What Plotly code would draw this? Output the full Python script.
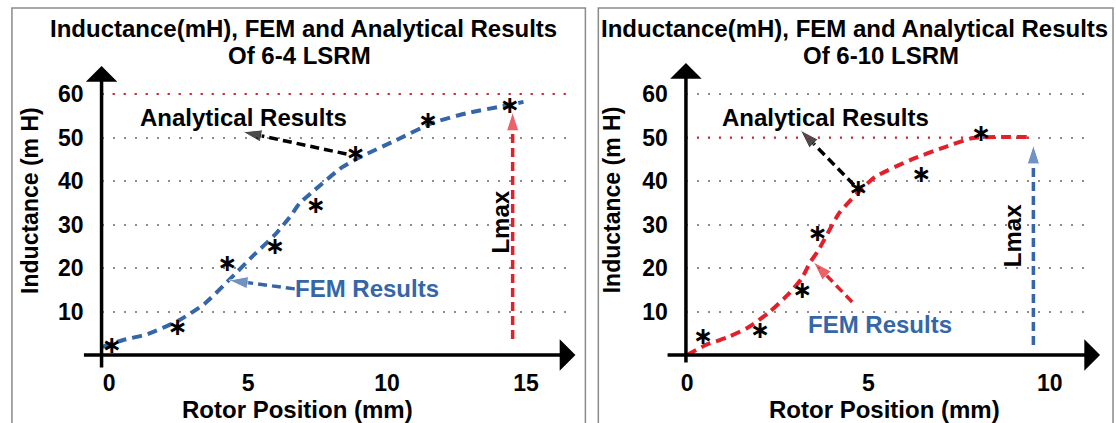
import plotly.graph_objects as go

W, H = 1116, 423
FONT = "Liberation Sans, Arial, sans-serif"
BLUE = "#3566a8"
RED = "#e3202a"
GRID = "#8c8c8c"

# ---------------- data: 6-4 LSRM (left) ----------------
x_ticks_left = [0, 5, 10, 15]
y_ticks = [10, 20, 30, 40, 50, 60]

fem_x_left = [-0.27, 0.48, 1.38, 2.52, 3.42, 4.31, 5.21, 5.96, 6.5, 6.86, 7.39,
              8.39, 9.04, 10.33, 11.62, 12.87, 14.16, 14.91]
fem_y_left = [1.8, 3.4, 4.8, 8.0, 11.7, 17.2, 23.0, 27.6, 31.7, 34.9, 37.9,
              43.2, 45.5, 49.4, 53.3, 55.6, 57.2, 58.2]
ana_x_left = [0.09, 2.45, 4.24, 5.96, 7.43, 8.86, 11.47, 14.41]
ana_y_left = [1.8, 6.0, 20.7, 24.6, 34.0, 46.0, 53.6, 57.0]
lmax_level_left = 60
lmax_arrow_left = {"x": [14.52, 14.52], "y": [3.7, 55.9]}
ana_arrow_left = {"x": [8.54, 4.81], "y": [46.2, 51.3]}
fem_arrow_left = {"x": [6.68, 4.31], "y": [15.2, 17.2]}

# ---------------- data: 6-10 LSRM (right) ----------------
x_ticks_right = [0, 5, 10]

fem_x_right = [0.0, 0.51, 1.12, 1.69, 2.27, 2.77, 3.15, 3.40, 3.62, 4.19, 4.69,
               5.18, 6.15, 7.11, 7.88, 8.67, 9.44]
fem_y_right = [0.0, 2.3, 4.1, 6.4, 9.9, 13.8, 17.5, 21.4, 24.1, 32.6, 37.2,
               40.9, 44.8, 47.8, 49.9, 50.1, 50.1]
ana_x_right = [0.43, 2.0, 3.17, 3.59, 4.71, 6.45, 8.1]
ana_y_right = [3.9, 5.3, 14.5, 27.6, 37.9, 41.1, 50.6]
lmax_level_right = 50
lmax_arrow_right = {"x": [9.55, 9.55], "y": [2.3, 48.3]}
ana_arrow_right = {"x": [4.60, 3.12], "y": [39.1, 51.7]}
fem_arrow_right = {"x": [4.55, 3.48], "y": [12.2, 21.4]}


def px(v):
    return v / W


def py(v):
    return 1 - v / H


fig = go.Figure()

DASH = "10px,6px"


def add_panel(xr, yr, fem_x, fem_y, fem_color, ana_x, ana_y,
              lmax_arrow, lmax_color, ana_arrow, fem_arrow, fem_arrow_color):
    # FEM curve
    fig.add_trace(go.Scatter(x=fem_x, y=fem_y, mode="lines",
                             line=dict(color=fem_color, width=4, dash=DASH,
                                       shape="spline", smoothing=0.6),
                             xaxis=xr, yaxis=yr, hoverinfo="skip"))
    # dashed arrows
    for arr, col in ((lmax_arrow, lmax_color), (ana_arrow, "black"),
                     (fem_arrow, fem_arrow_color)):
        fig.add_trace(go.Scatter(
            x=arr["x"], y=arr["y"], mode="lines+markers",
            line=dict(color=col, width=3.5, dash="9px,5px"),
            marker=dict(symbol="arrow", size=[0, 20], color=col,
                        angleref="previous"),
            xaxis=xr, yaxis=yr, hoverinfo="skip", cliponaxis=False))
    # analytical stars
    fig.add_trace(go.Scatter(x=ana_x, y=ana_y, mode="text", text=["\u2217"] * len(ana_x),
                             textposition="middle center",
                             textfont=dict(family="DejaVu Sans", size=24, color="black",
                                           weight="bold"),
                             xaxis=xr, yaxis=yr, hoverinfo="skip", cliponaxis=False))


add_panel("x", "y", fem_x_left, fem_y_left, BLUE, ana_x_left, ana_y_left,
          lmax_arrow_left, RED, ana_arrow_left, fem_arrow_left, BLUE)
add_panel("x2", "y2", fem_x_right, fem_y_right, RED, ana_x_right, ana_y_right,
          lmax_arrow_right, BLUE, ana_arrow_right, fem_arrow_right, RED)

tickfont = dict(family=FONT, size=23, color="black", weight="bold")
yax = dict(range=[0, 65.06], domain=[py(355), py(72)], tickvals=y_ticks,
           showgrid=True, gridcolor=GRID, gridwidth=2, griddash="2px,9px",
           zeroline=False, showline=False, ticks="", tickfont=tickfont,
           ticklabelstandoff=17)
fig.update_layout(
    width=W, height=H, margin=dict(l=0, r=0, t=0, b=0),
    paper_bgcolor="white", plot_bgcolor="white", showlegend=False,
    xaxis=dict(range=[-0.272, 16.60], domain=[px(97), px(568)], tickvals=x_ticks_left,
               showgrid=False, zeroline=False, showline=False, ticks="",
               tickfont=tickfont, ticklabelstandoff=12, anchor="y"),
    yaxis=dict(anchor="x", **yax),
    xaxis2=dict(range=[-0.036, 11.17], domain=[px(684), px(1092)], tickvals=x_ticks_right,
                showgrid=False, zeroline=False, showline=False, ticks="",
                tickfont=tickfont, ticklabelstandoff=12, anchor="y2"),
    yaxis2=dict(anchor="x2", **yax),
)

# Lmax level (red dotted) lines
fig.add_shape(type="line", xref="x", yref="y", x0=-0.272, x1=16.60,
              y0=lmax_level_left, y1=lmax_level_left,
              line=dict(color=RED, width=2, dash="2px,9px"))
fig.add_shape(type="line", xref="x2", yref="y2", x0=-0.036, x1=lmax_arrow_right["x"][0],
              y0=lmax_level_right, y1=lmax_level_right,
              line=dict(color=RED, width=2, dash="2px,9px"))

# panel frames
for x0, x1 in ((7, 583), (596, 1113)):
    fig.add_shape(type="rect", xref="paper", yref="paper", x0=px(x0), x1=px(x1),
                  y0=py(440), y1=py(8), line=dict(color="#8a8a8a", width=1.5),
                  layer="below")

# axis arrows
axis_arrows = [((573, 355), (80, 355)), ((97, 66), (97, 369)),
               ((1100, 355), (666, 355)), ((684, 63), (684, 364))]
for (hx, hy), (tx, ty) in axis_arrows:
    fig.add_annotation(x=px(hx), y=py(hy), xref="paper", yref="paper",
                       ax=tx - hx, ay=ty - hy, axref="pixel", ayref="pixel",
                       text="", showarrow=True, arrowhead=1, arrowsize=1.5,
                       arrowwidth=3.5, arrowcolor="black")


def ann(text, x, y, xref="paper", yref="paper", color="black", angle=0, size=24):
    fig.add_annotation(text=text, x=x, y=y, xref=xref, yref=yref, showarrow=False,
                       textangle=angle, xanchor="center", yanchor="middle",
                       font=dict(family=FONT, size=size, color=color, weight="bold"))


# titles
ann("Inductance(mH), FEM and Analytical Results", px(300), py(29))
ann("Of 6-4 LSRM", px(296), py(56))
ann("Inductance(mH), FEM and Analytical Results", px(853), py(29))
ann("Of 6-10 LSRM", px(880), py(56))
# axis titles
ann("Rotor Position (mm)", px(294), py(409))
ann("Rotor Position (mm)", px(883), py(409))
ann("Inductance (m H)", px(25), py(200), angle=-90, size=23)
ann("Inductance (m H)", px(610), py(200), angle=-90, size=23)
# in-plot labels
ann("Analytical Results", 4.85, 54.5, xref="x", yref="y")
ann("FEM Results", 9.29, 15.2, xref="x", yref="y", color=BLUE)
ann("Lmax", 14.09, 30.6, xref="x", yref="y", angle=-90)
ann("Analytical Results", 3.81, 54.7, xref="x2", yref="y2")
ann("FEM Results", 5.32, 6.9, xref="x2", yref="y2", color=BLUE)
ann("Lmax", 8.97, 27.4, xref="x2", yref="y2", angle=-90)

fig.write_html("out.html", config={"displayModeBar": False},
               post_script="document.body.style.margin='0';document.body.style.overflow='hidden';")
